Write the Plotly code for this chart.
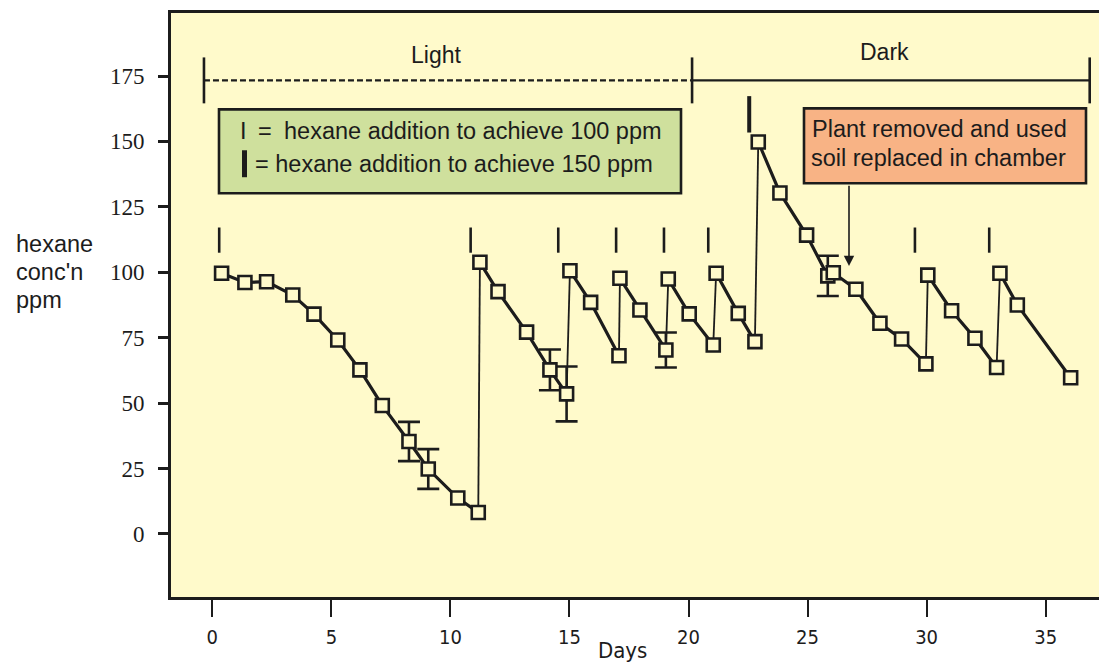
import plotly.graph_objects as go

# ---------------- data ----------------
days = [0.39, 1.37, 2.28, 3.38, 4.27, 5.27, 6.20, 7.14, 8.26, 9.07, 10.31, 11.17,
        11.24, 12.00, 13.20, 14.18, 14.88,
        15.02, 15.89, 17.08,
        17.12, 17.96, 19.05,
        19.15, 20.03, 21.04,
        21.16, 22.09, 22.79,
        22.93, 23.84, 24.96, 25.85, 26.08, 27.03, 28.04, 28.95, 29.97,
        30.05, 31.05, 32.03, 32.94,
        33.08, 33.81, 36.05]
conc = [99.6, 96.1, 96.4, 91.3, 84.0, 74.1, 62.7, 49.1, 35.3, 24.8, 13.7, 8.2,
        103.8, 92.6, 77.1, 62.7, 53.5,
        100.6, 88.5, 68.1,
        97.7, 85.6, 70.3,
        97.4, 84.1, 72.2,
        99.6, 84.3, 73.5,
        149.8, 130.3, 114.2, 98.6, 99.8, 93.5, 80.5, 74.5, 65.0,
        98.9, 85.3, 74.8, 63.6,
        99.6, 87.5, 59.7]
cycle = [1] * 12 + [2] * 5 + [3] * 3 + [4] * 3 + [5] * 3 + [6] * 3 + [7] * 9 + [8] * 4 + [9] * 3

err_index = [8, 9, 15, 16, 22, 32]
err_sd = [7.5, 7.6, 7.8, 10.5, 6.7, 7.7]

add100_days = [0.29, 10.85, 14.53, 16.96, 18.97, 20.83, 29.51, 32.63]
add150_days = [22.55]

light_period = [-0.35, 20.15]
dark_period = [20.15, 36.85]

x_ticks = [0, 5, 10, 15, 20, 25, 30, 35]
y_ticks = [0, 25, 50, 75, 100, 125, 150, 175]

# ---------------- layout helpers (page pixel -> data / paper) ----------------
PAGE_OFF = 8                    # default body margin of the written html page
W, H = 1107 - PAGE_OFF, 666 - PAGE_OFF
PL, PR, PT, PB = 171, 1106, 12.5, 597.5   # plot area in page pixels
X0_PX, PX_PER_DAY = 212.3, 23.81
Y0_PX, PX_PER_PPM = 534.3, 2.621


def dx(px):
    return (px - X0_PX) / PX_PER_DAY


def dy(py):
    return (Y0_PX - py) / PX_PER_PPM


def paper_x(px):
    return (px - PL) / (PR - PL)


def paper_y(py):
    return (PB - py) / (PB - PT)


BG = "#fffacb"
INK = "#1c1c1c"
SANS = "Liberation Sans, Arial, Helvetica, sans-serif"
NARROW = "Liberation Sans Narrow, Arial Narrow, DejaVu Sans Condensed, Liberation Sans, sans-serif"
SERIF = "Liberation Serif, Times New Roman, serif"

fig = go.Figure()

# thin vertical connectors (hexane additions)
cx, cy = [], []
for i in range(1, len(days)):
    if cycle[i] != cycle[i - 1]:
        cx += [days[i - 1], days[i], None]
        cy += [conc[i - 1], conc[i], None]
fig.add_trace(go.Scatter(x=cx, y=cy, mode="lines",
                         line=dict(color=INK, width=1.8), hoverinfo="skip"))

# thick decay lines within each cycle
lx, ly = [], []
for i in range(len(days)):
    if i > 0 and cycle[i] != cycle[i - 1]:
        lx.append(None)
        ly.append(None)
    lx.append(days[i])
    ly.append(conc[i])
fig.add_trace(go.Scatter(x=lx, y=ly, mode="lines",
                         line=dict(color=INK, width=3.2), hoverinfo="skip"))

# error bars
fig.add_trace(go.Scatter(
    x=[days[i] for i in err_index], y=[conc[i] for i in err_index],
    mode="markers", marker=dict(size=1, color="rgba(0,0,0,0)"),
    error_y=dict(type="data", array=err_sd, visible=True,
                 color=INK, thickness=2.6, width=11),
    hoverinfo="skip"))

# square markers
fig.add_trace(go.Scatter(
    x=days, y=conc, mode="markers",
    marker=dict(symbol="square", size=13, color=BG,
                line=dict(color=INK, width=2.6))))

# hexane addition tick markers
fig.add_trace(go.Scatter(
    x=add100_days, y=[dy(240)] * len(add100_days), mode="markers",
    marker=dict(symbol="line-ns-open", size=18, color=INK,
                line=dict(color=INK, width=2.6)), hoverinfo="skip"))
fig.add_trace(go.Scatter(
    x=add150_days, y=[dy(114)] * len(add150_days), mode="markers",
    marker=dict(symbol="line-ns-open", size=26, color=INK,
                line=dict(color=INK, width=4)), hoverinfo="skip"))

shapes = []
ybar = dy(80)
# Light (dashed) and Dark (solid) period bars
shapes.append(dict(type="line", xref="x", yref="y",
                   x0=light_period[0], x1=light_period[1], y0=ybar, y1=ybar,
                   line=dict(color=INK, width=2.4, dash="6px,3px")))
shapes.append(dict(type="line", xref="x", yref="y",
                   x0=dark_period[0], x1=dark_period[1], y0=ybar, y1=ybar,
                   line=dict(color=INK, width=2.4)))
for xc in [light_period[0], light_period[1], dark_period[1]]:
    shapes.append(dict(type="line", xref="x", yref="y",
                       x0=xc, x1=xc, y0=dy(57), y1=dy(103),
                       line=dict(color=INK, width=2.6)))

# green legend box
shapes.append(dict(type="rect", xref="x", yref="y",
                   x0=dx(219), x1=dx(681), y0=dy(193), y1=dy(109),
                   fillcolor="#cfe09d", line=dict(color=INK, width=2.6), layer="above"))
# thick bar inside legend (150 ppm symbol)
shapes.append(dict(type="line", xref="x", yref="y",
                   x0=dx(244.5), x1=dx(244.5), y0=dy(150), y1=dy(177),
                   line=dict(color=INK, width=5), layer="above"))
# orange note box
shapes.append(dict(type="rect", xref="x", yref="y",
                   x0=dx(804), x1=dx(1086), y0=dy(183), y1=dy(108),
                   fillcolor="#f8b385", line=dict(color=INK, width=2.6), layer="above"))

ann = []


def text(px, py, s, size=23.5, family=SANS, xanchor="left", paper=False):
    if paper:
        pos = dict(x=paper_x(px), y=paper_y(py), xref="paper", yref="paper")
    else:
        pos = dict(x=dx(px), y=dy(py), xref="x", yref="y")
    ann.append(dict(text=s, showarrow=False, xanchor=xanchor, yanchor="middle",
                    font=dict(family=family, size=size, color=INK), **pos))


text(436, 55, "Light", size=23, xanchor="center")
text(884, 52, "Dark", size=23, xanchor="center")
text(243, 131, "I", xanchor="center")
text(264.5, 131, "=", xanchor="center")
text(282, 131, "hexane addition to achieve 100 ppm")
text(253, 164, "= hexane addition to achieve 150 ppm")
text(810, 129, "Plant removed and used")
text(809, 158, "soil replaced in chamber")

# y axis title (horizontal, three lines)
for i, s in enumerate(["hexane", "conc'n", "ppm"]):
    text(14, 244 + 28 * i, s, size=23.5, paper=True)

text(622, 651, "Days", size=22, family=NARROW, xanchor="center", paper=True)

# arrow from note to the data
ann.append(dict(x=dx(849), y=dy(266), ax=dx(849), ay=dy(184),
                xref="x", yref="y", axref="x", ayref="y", text="",
                showarrow=True, arrowhead=2, arrowsize=1.3, arrowwidth=1.6,
                arrowcolor=INK))

fig.update_layout(
    width=W, height=H,
    margin=dict(l=PL - PAGE_OFF, r=W - (PR - PAGE_OFF), t=PT - PAGE_OFF,
                b=H - (PB - PAGE_OFF), autoexpand=False),
    paper_bgcolor="white", plot_bgcolor=BG,
    showlegend=False,
    shapes=shapes, annotations=ann,
    xaxis=dict(range=[dx(PL), dx(PR)], tickvals=x_ticks,
               ticks="outside", ticklen=17, tickwidth=2, tickcolor=INK,
               showline=True, linewidth=3, linecolor=INK, mirror=True,
               showgrid=False, zeroline=False, ticklabelstandoff=3,
               tickfont=dict(family=NARROW, size=20, color=INK)),
    yaxis=dict(range=[dy(PB), dy(PT)], tickvals=y_ticks,
               ticks="outside", ticklen=10, tickwidth=2.5, tickcolor=INK,
               showline=True, linewidth=3, linecolor=INK, mirror=True,
               showgrid=False, zeroline=False, ticklabelstandoff=9,
               tickfont=dict(family=SERIF, size=23, color=INK)),
)

fig.write_html("out.html")
